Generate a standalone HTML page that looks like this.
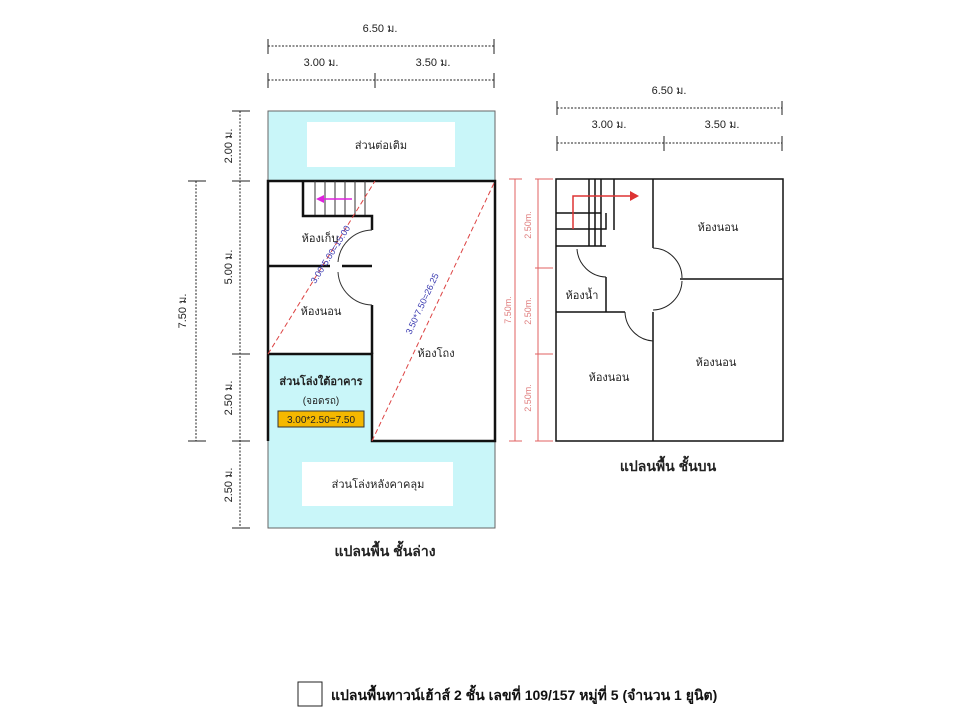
<!DOCTYPE html>
<html><head><meta charset="utf-8"><style>
html,body{margin:0;padding:0;background:#fff;width:960px;height:720px;overflow:hidden}
svg{display:block}
text{font-family:"Liberation Sans","Noto Sans CJK SC",sans-serif;}
</style></head><body>
<svg width="960" height="720" viewBox="0 0 960 720" xmlns="http://www.w3.org/2000/svg">
<g font-size="11" fill="#222" text-anchor="middle">
<!-- top dims left -->
<text x="380" y="32">6.50 ม.</text>
<line x1="268" y1="46" x2="494" y2="46" stroke="#222" stroke-dasharray="2,1.5"/>
<line x1="268" y1="39" x2="268" y2="54" stroke="#222"/><line x1="494" y1="39" x2="494" y2="54" stroke="#222"/>
<text x="321" y="66">3.00 ม.</text><text x="433" y="66">3.50 ม.</text>
<line x1="268" y1="80" x2="494" y2="80" stroke="#222" stroke-dasharray="2,1.5"/>
<line x1="268" y1="73" x2="268" y2="88" stroke="#222"/><line x1="375" y1="73" x2="375" y2="88" stroke="#222"/><line x1="494" y1="73" x2="494" y2="88" stroke="#222"/>
<!-- left vertical dims -->
<line x1="240" y1="111" x2="240" y2="528" stroke="#222" stroke-dasharray="2,1.5"/>
<g stroke="#222"><line x1="232" y1="111" x2="250" y2="111"/><line x1="232" y1="181" x2="250" y2="181"/><line x1="232" y1="354" x2="250" y2="354"/><line x1="232" y1="441" x2="250" y2="441"/><line x1="232" y1="528" x2="250" y2="528"/></g>
<text transform="translate(232,146) rotate(-90)">2.00 ม.</text>
<text transform="translate(232,267) rotate(-90)">5.00 ม.</text>
<text transform="translate(232,398) rotate(-90)">2.50 ม.</text>
<text transform="translate(232,485) rotate(-90)">2.50 ม.</text>
<line x1="196" y1="181" x2="196" y2="441" stroke="#222" stroke-dasharray="2,1.5"/>
<line x1="188" y1="181" x2="206" y2="181" stroke="#222"/><line x1="188" y1="441" x2="206" y2="441" stroke="#222"/>
<text transform="translate(186,311) rotate(-90)">7.50 ม.</text>
</g>
<!-- left plan -->
<rect x="268" y="111" width="227" height="417" fill="#c9f6f9" stroke="#666"/>
<rect x="307" y="122" width="148" height="45" fill="#fff"/>
<rect x="302" y="462" width="151" height="44" fill="#fff"/>
<rect x="268" y="181" width="227" height="260" fill="#fff"/>
<rect x="268" y="354" width="104" height="87" fill="#c9f6f9"/>
<g stroke="#111" stroke-width="2.5" fill="none">
<polyline points="268,441 268,181 495,181 495,441 372,441 372,354 268,354"/>
<polyline points="303,181 303,216 372,216 372,230"/>
<line x1="372" y1="305" x2="372" y2="354"/>
<line x1="268" y1="266" x2="330" y2="266"/>
<line x1="342" y1="266" x2="372" y2="266"/>
</g>
<g stroke="#333" stroke-width="1" fill="none">
<line x1="315" y1="181" x2="315" y2="215"/><line x1="325" y1="181" x2="325" y2="215"/><line x1="335" y1="181" x2="335" y2="215"/><line x1="345" y1="181" x2="345" y2="215"/><line x1="355" y1="181" x2="355" y2="215"/><line x1="365" y1="181" x2="365" y2="215"/>
<path d="M372,230 A35,35 0 0 0 338,262"/><path d="M372,305 A35,35 0 0 1 338,272"/>
</g>
<line x1="352" y1="199" x2="320" y2="199" stroke="#e020e0" stroke-width="1.5"/><polygon points="316,199 324,195 324,203" fill="#e020e0"/>
<g stroke="#d44" stroke-width="1" stroke-dasharray="5,3"><line x1="268" y1="354" x2="375" y2="181"/><line x1="372" y1="441" x2="495" y2="181"/></g>
<text transform="translate(333,256) rotate(-58)" font-size="9" fill="#3a3ab0" text-anchor="middle">3.00*5.00=15.00</text>
<text transform="translate(425,305) rotate(-65)" font-size="9" fill="#3a3ab0" text-anchor="middle">3.50*7.50=26.25</text>
<g font-size="11" fill="#222" text-anchor="middle">
<text x="381" y="149">ส่วนต่อเติม</text>
<text x="378" y="488">ส่วนโล่งหลังคาคลุม</text>
<text x="320" y="242">ห้องเก็บ</text>
<text x="321" y="315">ห้องนอน</text>
<text x="436" y="357">ห้องโถง</text>
<text x="321" y="385" font-weight="bold">ส่วนโล่งใต้อาคาร</text>
<text x="321" y="404" font-size="10">(จอดรถ)</text>
</g>
<rect x="278" y="411" width="86" height="16" fill="#f5b800" stroke="#333"/>
<text x="321" y="423" font-size="10" text-anchor="middle" fill="#222">3.00*2.50=7.50</text>
<text x="385" y="556" font-size="14" font-weight="bold" text-anchor="middle" fill="#222">แปลนพื้น ชั้นล่าง</text>

<!-- right plan -->
<g font-size="11" fill="#222" text-anchor="middle">
<text x="669" y="94">6.50 ม.</text>
<line x1="557" y1="108" x2="782" y2="108" stroke="#222" stroke-dasharray="2,1.5"/>
<line x1="557" y1="101" x2="557" y2="115" stroke="#222"/><line x1="782" y1="101" x2="782" y2="115" stroke="#222"/>
<text x="609" y="128">3.00 ม.</text><text x="722" y="128">3.50 ม.</text>
<line x1="557" y1="143" x2="782" y2="143" stroke="#222" stroke-dasharray="2,1.5"/>
<line x1="557" y1="136" x2="557" y2="151" stroke="#222"/><line x1="664" y1="136" x2="664" y2="151" stroke="#222"/><line x1="782" y1="136" x2="782" y2="151" stroke="#222"/>
</g>
<g stroke="#e06060" fill="none">
<line x1="515" y1="179" x2="515" y2="441"/><line x1="538" y1="179" x2="538" y2="441"/>
<line x1="509" y1="179" x2="522" y2="179"/><line x1="509" y1="441" x2="522" y2="441"/>
<line x1="535" y1="179" x2="553" y2="179"/><line x1="535" y1="268" x2="553" y2="268"/><line x1="535" y1="354" x2="553" y2="354"/><line x1="535" y1="441" x2="553" y2="441"/>
</g>
<g font-size="9" fill="#e08080" text-anchor="middle">
<text transform="translate(511,310) rotate(-90)">7.50m.</text>
<text transform="translate(531,225) rotate(-90)">2.50m.</text>
<text transform="translate(531,311) rotate(-90)">2.50m.</text>
<text transform="translate(531,398) rotate(-90)">2.50m.</text>
</g>
<g stroke="#111" stroke-width="1.5" fill="none">
<rect x="556" y="179" width="227" height="262"/>
<line x1="653" y1="179" x2="653" y2="248"/>
<line x1="653" y1="312" x2="653" y2="441"/>
<line x1="680" y1="279" x2="783" y2="279"/>
<line x1="556" y1="312" x2="625" y2="312"/>
<line x1="606" y1="277" x2="606" y2="312"/>
<line x1="556" y1="246" x2="606" y2="246"/>
<line x1="589" y1="179" x2="589" y2="246"/><line x1="595" y1="179" x2="595" y2="246"/><line x1="601" y1="179" x2="601" y2="246"/>
<polyline points="556,213 601,213"/><polyline points="556,229 606,229 606,213"/>
<polyline points="614,179 614,230"/>
</g>
<g stroke="#222" stroke-width="1" fill="none">
<path d="M577,249 A30,30 0 0 0 606,277"/>
<path d="M653,248 A30,30 0 0 1 682,278"/>
<path d="M653,310 A30,30 0 0 0 682,281"/>
<path d="M625,312 A30,30 0 0 0 653,341"/>
</g>
<polyline points="573,229 573,196 633,196" stroke="#d33" stroke-width="1.5" fill="none"/>
<polygon points="639,196 630,191 630,201" fill="#d33"/>
<g font-size="11" fill="#222" text-anchor="middle">
<text x="718" y="231">ห้องนอน</text>
<text x="716" y="366">ห้องนอน</text>
<text x="609" y="381">ห้องนอน</text>
<text x="582" y="299">ห้องน้ำ</text>
</g>
<text x="668" y="471" font-size="14" font-weight="bold" text-anchor="middle" fill="#222">แปลนพื้น ชั้นบน</text>

<!-- caption -->
<rect x="298" y="682" width="24" height="24" fill="#fff" stroke="#222"/>
<text x="331" y="700" font-size="14" font-weight="bold" font-family="Liberation Serif,serif" fill="#111">แปลนพื้นทาวน์เฮ้าส์ 2 ชั้น  เลขที่ 109/157  หมู่ที่ 5 (จำนวน 1 ยูนิต)</text>
</svg>
</body></html>
